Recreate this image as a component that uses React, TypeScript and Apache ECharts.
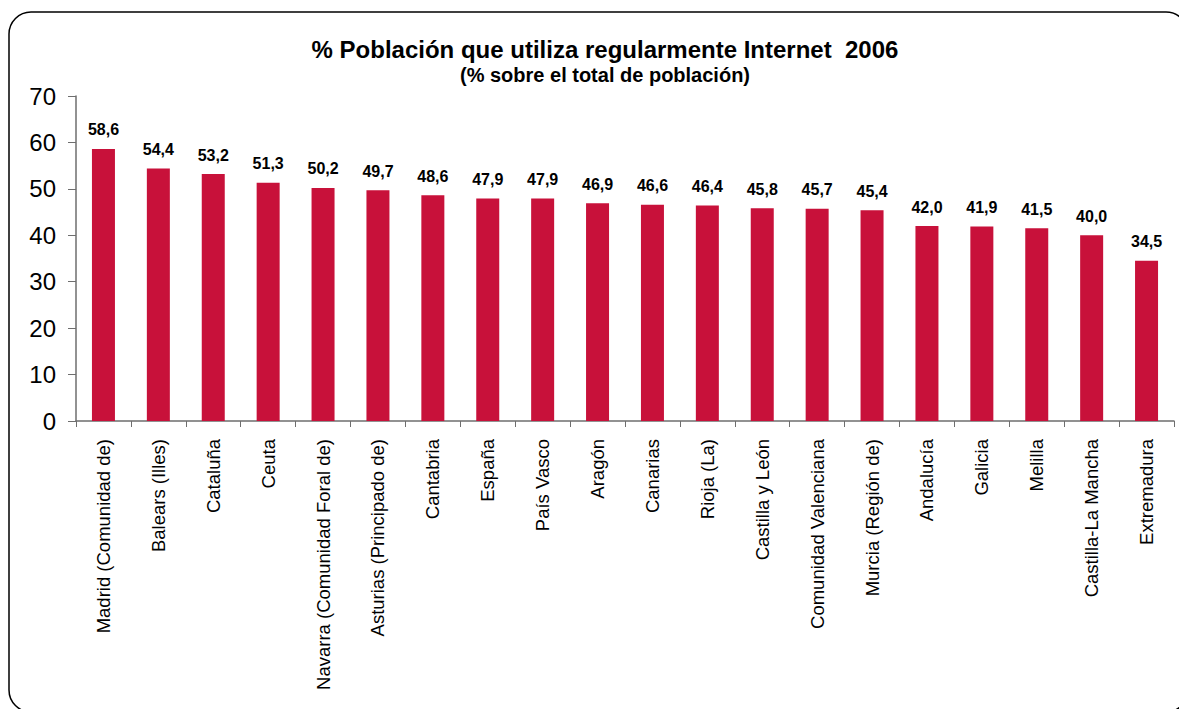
import React, { useEffect, useRef } from "react";
import * as echarts from "echarts";

const categories = [
  "Madrid (Comunidad de)",
  "Balears (Illes)",
  "Cataluña",
  "Ceuta",
  "Navarra (Comunidad Foral de)",
  "Asturias (Principado de)",
  "Cantabria",
  "España",
  "País Vasco",
  "Aragón",
  "Canarias",
  "Rioja (La)",
  "Castilla y León",
  "Comunidad Valenciana",
  "Murcia (Región de)",
  "Andalucía",
  "Galicia",
  "Melilla",
  "Castilla-La Mancha",
  "Extremadura",
];
const values = [58.6, 54.4, 53.2, 51.3, 50.2, 49.7, 48.6, 47.9, 47.9, 46.9, 46.6, 46.4, 45.8, 45.7, 45.4, 42.0, 41.9, 41.5, 40.0, 34.5];
const titleText = "% Población que utiliza regularmente Internet  2006";
const subtitleText = "(% sobre el total de población)";

export default function App() {
  const ref = useRef<HTMLDivElement>(null);
  useEffect(() => {
    if (!ref.current) return;
    const chart = echarts.init(ref.current, null, { renderer: "svg" });
    const font = "'Liberation Sans', Arial, sans-serif";
    chart.setOption({
      animation: false,
      backgroundColor: "#ffffff",
      textStyle: { fontFamily: font },
      title: {
        text: titleText,
        subtext: subtitleText,
        left: 600,
        textAlign: "center",
        top: 32,
        itemGap: 4,
        textStyle: { fontFamily: font, fontSize: 24, fontWeight: "bold", color: "#000" },
        subtextStyle: { fontFamily: font, fontSize: 20, fontWeight: "bold", color: "#000" },
      },
      graphic: [
        {
          type: "rect",
          shape: { x: 9, y: 12, width: 1179, height: 700, r: 22 },
          style: { fill: "none", stroke: "#000", lineWidth: 1.5 },
          silent: true,
        },
      ],
      grid: { left: 76, right: 5, top: 96, bottom: 288, containLabel: false },
      xAxis: {
        type: "category",
        data: categories,
        axisLine: { show: true, lineStyle: { color: "#6e6e6e", width: 1.5 } },
        axisTick: { show: true, alignWithLabel: false, length: 6, lineStyle: { color: "#6e6e6e" } },
        axisLabel: {
          rotate: 90,
          interval: 0,
          margin: 18,
          fontSize: 18.5,
          color: "#000",
          fontFamily: font,
        },
      },
      yAxis: {
        type: "value",
        min: 0,
        max: 70,
        interval: 10,
        splitLine: { show: false },
        axisLine: { show: true, lineStyle: { color: "#6e6e6e", width: 1.5 } },
        axisTick: { show: true, inside: false, length: 8, lineStyle: { color: "#6e6e6e" } },
        axisLabel: { fontSize: 24, color: "#000", margin: 20, fontFamily: font },
      },
      series: [
        {
          type: "bar",
          data: values,
          barWidth: 23,
          itemStyle: { color: "#C8113A" },
          label: {
            show: true,
            position: "top",
            distance: 11,
            fontSize: 16,
            fontWeight: "bold",
            color: "#000",
            fontFamily: font,
            formatter: (p: any) => p.value.toFixed(1).replace(".", ","),
          },
        },
      ],
    });
    return () => chart.dispose();
  }, []);
  return (
    <div
      ref={ref}
      style={{ position: "fixed", left: 0, top: 0, width: 1179, height: 709 }}
    />
  );
}
